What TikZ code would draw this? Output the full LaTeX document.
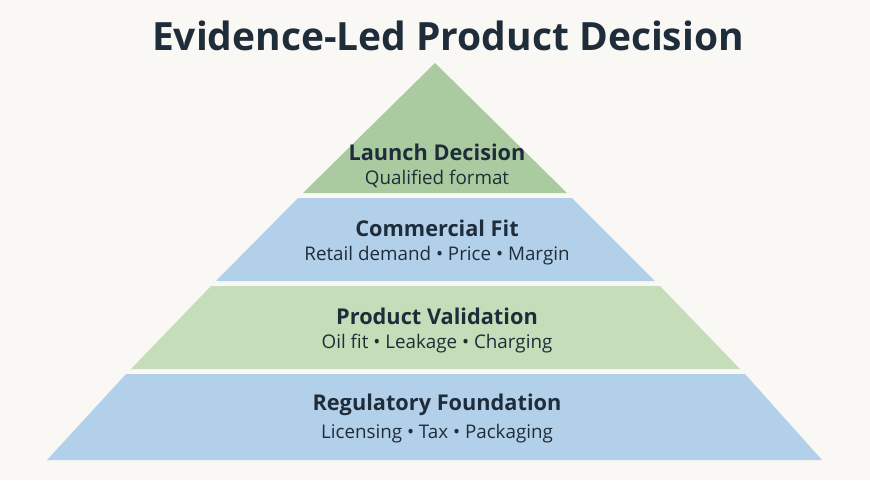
\documentclass[tikz,border=0pt]{standalone}
\usepackage{fontspec}
\setmainfont{Open Sans}
\begin{document}
\begin{tikzpicture}[x=0.75pt,y=-0.75pt,
  head/.style={font=\fontsize{16.3}{18}\selectfont\bfseries,text=txt,inner sep=0pt},
  sub/.style={font=\fontsize{14.1}{16}\selectfont,text=txt,inner sep=0pt},
  band/.style={draw=none}]
\definecolor{bg}{HTML}{FAF8F4}
\definecolor{txt}{HTML}{1F2D3A}
\definecolor{gA}{HTML}{AACB9F}
\definecolor{gB}{HTML}{C6DDB9}
\definecolor{bl}{HTML}{B3D0EA}
\fill[bg] (0,0) rectangle (870,480);
\useasboundingbox (0,0) rectangle (870,480);
\node[font=\fontsize{29.2}{32}\selectfont\bfseries,text=txt] (title) at (448,36) {Evidence-Led Product Decision};
\fill[gA] (435,63) -- (567,193) -- (303,193) -- cycle;
\fill[bl] (298,198) -- (572,198) -- (655,281) -- (216,281) -- cycle;
\fill[gB] (211,286) -- (660,286) -- (740,369) -- (131,369) -- cycle;
\fill[bl] (126,374) -- (745,374) -- (822,460) -- (47,460) -- cycle;
\node[head] (h1) at (437,152) {Launch Decision};
\node[sub] (s1) at (437,179) {Qualified format};
\node[head] (h2) at (437,228) {Commercial Fit};
\node[sub] (s2) at (437,256) {Retail demand • Price • Margin};
\node[head] (h3) at (437,316) {Product Validation};
\node[sub] (s3) at (437,344) {Oil fit • Leakage • Charging};
\node[head] (h4) at (437,405) {Regulatory Foundation};
\node[sub] (s4) at (437,434) {Licensing • Tax • Packaging};
\end{tikzpicture}
\end{document}
